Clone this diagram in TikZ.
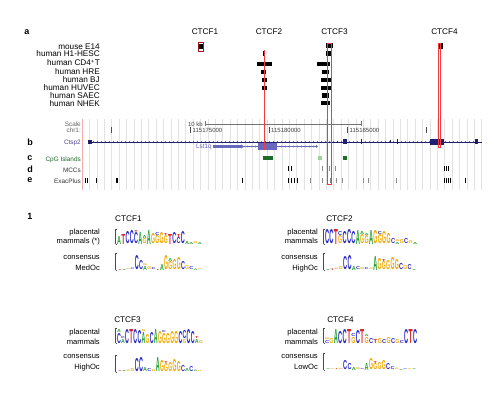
\documentclass[tikz,border=0pt]{standalone}
\usepackage{fontspec}
\setmainfont{Liberation Sans}
\usepackage{graphicx}
\definecolor{colA}{HTML}{1FA22E}
\definecolor{colC}{HTML}{2B2BC8}
\definecolor{colG}{HTML}{F2A900}
\definecolor{colT}{HTML}{D8262A}
\definecolor{ctcfred}{HTML}{F03C40}
\definecolor{chipred}{HTML}{9A1A1A}
\definecolor{genenavy}{HTML}{1F1F70}
\definecolor{lstblue}{HTML}{6767C0}
\definecolor{cpgdark}{HTML}{1E6B2A}
\definecolor{cpglight}{HTML}{9CD49C}
\definecolor{gridgray}{HTML}{E2E2E2}
\definecolor{pinkline}{HTML}{F2AAAA}
% #1 name prefix, #2 x0, #3 baseline, #4 column step, #5 letter width, #6 columns
\newcommand{\seqlogo}[6]{%
  \foreach \ltra/\hgta/\ltrb/\hgtb [count=\n] in {#6}{%
    \node[logoletter] (#1-\n) at ({#2+(\n-1)*#4},#3) {\color{col\ltra}\resizebox{#5pt}{\hgta pt}{\bfseries \ltra}};
    \ifdim \hgtb pt>0pt
      \node[logoletter] (#1-\n-u) at ({#2+(\n-1)*#4},{#3-\hgta-0.6}) {\color{col\ltrb}\resizebox{#5pt}{\hgtb pt}{\bfseries \ltrb}};
    \fi
  }%
}
\begin{document}
\begin{tikzpicture}[x=1pt,y=-1pt,
  rowlbl/.style={font=\fontsize{8.2}{9}\selectfont, inner sep=0, anchor=base east},
  ctcflbl/.style={font=\fontsize{8.2}{9}\selectfont, inner sep=0, anchor=base},
  panellbl/.style={font=\bfseries\fontsize{9}{10}\selectfont, inner sep=0, anchor=base},
  trklbl/.style={font=\fontsize{6.4}{7}\selectfont, inner sep=0, anchor=base east},
  coordlbl/.style={font=\fontsize{6}{7}\selectfont, inner sep=0, anchor=base west, text=black!75},
  logolbl/.style={font=\fontsize{7.6}{8}\selectfont, inner sep=0, anchor=base east},
  logoletter/.style={anchor=south west, inner sep=0, outer sep=0},
  ctcfline/.style={draw=ctcfred, line width=0.7pt},
  gridln/.style={draw=gridgray, line width=0.5pt},
  tickmk/.style={line width=0.7pt},
  grayt/.style={line width=0.7pt, draw=black!45},
  logoaxis/.style={draw=black!70, line width=0.4pt}
]
\useasboundingbox (0,0) rectangle (500,395);
\fill[white] (0,0) rectangle (500,395);

% ---------- panel a ----------
\node[panellbl] (pa) at (27,34.6) {a};
\node[ctcflbl] (t1) at (205,35) {CTCF1};
\node[ctcflbl] (t2) at (269,35) {CTCF2};
\node[ctcflbl] (t3) at (334.5,35) {CTCF3};
\node[ctcflbl] (t4) at (444.5,35) {CTCF4};

\node[rowlbl] (r1) at (100,49.9) {mouse E14};
\node[rowlbl] (r2) at (100,56.9) {human H1-HESC};
\node[rowlbl] (r3) at (100,65.9) {human CD4\textsuperscript{+}T};
\node[rowlbl] (r4) at (100,74.9) {human HRE};
\node[rowlbl] (r5) at (100,82.9) {human BJ};
\node[rowlbl] (r6) at (100,90.9) {human HUVEC};
\node[rowlbl] (r7) at (100,98.9) {human SAEC};
\node[rowlbl] (r8) at (100,106.9) {human NHEK};

% ChIP bars
\fill[black] (199,44.5) rectangle (202.5,49.5);
% CTCF2
\fill[black] (262.7,51.5) rectangle (265,56.5);
\fill[black] (256.7,61.8) rectangle (271.7,66.5);
\fill[black] (261,69.8) rectangle (265.7,74.5);
\fill[black] (262,77.8) rectangle (266.7,82.5);
\fill[black] (261.7,85.8) rectangle (266.7,90.5);
% CTCF3
\fill[black] (325.7,43.5) rectangle (333.3,48.5);
\fill[black] (326,51.5) rectangle (330.7,56.5);
\fill[black] (317.3,61.8) rectangle (330,66.5);
\fill[black] (322.3,69.8) rectangle (329,74.5);
\fill[black] (320.7,77.8) rectangle (330.7,82.5);
\fill[black] (321,85.8) rectangle (331.7,90.5);
\fill[black] (322.3,93.3) rectangle (329.3,97.8);
\fill[black] (320.7,100.8) rectangle (330,105.5);
% CTCF4
\fill[black] (437.7,43.5) rectangle (443.3,49);

% ---------- track area ----------
\foreach \k in {1,...,54}{
  \draw[gridln] ({82+7.4*\k},119) -- ({82+7.4*\k},190);
}
\draw[draw=pinkline, line width=0.6pt] (82,119) -- (82,190);

\node[trklbl, text=black!60] (scl) at (81,127) {Scale};
\node[trklbl, text=black!60] (chr) at (81,132.5) {chr1:};
\node[panellbl] (pb) at (30,145.5) {b};
\node[trklbl, text=genenavy!80] (gn) at (81,144.3) {Ctsp2};
\node[panellbl] (pc) at (30,160.6) {c};
\node[trklbl, text=cpgdark] (cpg) at (81,161.3) {CpG Islands};
\node[panellbl] (pd) at (30,172.5) {d};
\node[trklbl, text=black!80] (mcc) at (81,172.3) {MCCs};
\node[panellbl] (pe) at (30,183) {e};
\node[trklbl, text=black!80] (exa) at (81,183.3) {ExacPlus};

% scale bar
\node[coordlbl, anchor=base east] (kb) at (203,126.3) {10 kb};
\draw[black!55, line width=0.6pt] (205,124) -- (361.5,124);
\draw[black!55, line width=0.6pt] (205,121.5) -- (205,126.5);
\draw[black!55, line width=0.6pt] (361.5,121.5) -- (361.5,126.5);
% coordinates
\foreach \xx in {111.7,190.5,269,347.5,426.5}{
  \draw[black!70, line width=0.5pt] (\xx,127.5) -- (\xx,133);
}
\node[coordlbl] (c1) at (192.5,132.5) {115175000};
\node[coordlbl] (c2) at (271,132.5) {115180000};
\node[coordlbl] (c3) at (349.5,132.5) {115185000};

% gene b
\draw[genenavy, line width=0.6pt] (88,142) -- (481.7,142);
\foreach \xx in {94,98,...,478}{
  \draw[genenavy, line width=0.3pt] (\xx-0.8,141) -- (\xx,142) -- (\xx-0.8,143);
}
\fill[genenavy] (88,140) rectangle (91.7,144.5);
\fill[genenavy] (337,141) rectangle (338,143.5);
\fill[genenavy] (343.3,139.5) rectangle (347.3,144.5);
\fill[genenavy] (361,139.5) rectangle (362.3,144.5);
\fill[genenavy] (389.7,140.5) rectangle (390.5,143.5);
\fill[genenavy] (396.7,139.5) rectangle (398.3,144.5);
\fill[genenavy] (430,139.3) rectangle (444,145);
\fill[genenavy] (475,139.5) rectangle (478.3,144.5);

% gene Lst1q
\node[trklbl, text=lstblue, anchor=base east] (lst) at (212,148.8) {Lst1q};
\draw[lstblue, line width=0.5pt] (241.7,146.5) -- (316.5,146.5);
\foreach \xx in {248,252,256,282,286,...,314}{
  \draw[lstblue, line width=0.3pt] (\xx-0.8,145.6) -- (\xx,146.5) -- (\xx-0.8,147.4);
}
\fill[lstblue] (213.3,145.2) rectangle (241.7,147.8);
\fill[lstblue] (241.2,144.5) -- (244,146.5) -- (241.2,148.5) -- cycle;
\fill[lstblue] (258.3,143.5) rectangle (276.7,150);
\fill[lstblue] (316.5,146.5) circle (1.3);

% CpG islands
\fill[cpgdark] (263,155.7) rectangle (273,160.3);
\fill[cpglight] (318,155.7) rectangle (321.7,160.3);
\fill[cpgdark] (343,155.7) rectangle (347.3,160.3);

% MCCs
\foreach \xx in {288,291,444.5,446.5,448.5}{
  \draw[tickmk] (\xx,166.5) -- (\xx,171.5);
}
\foreach \xx in {322,329,335.5}{
  \draw[grayt] (\xx,166.5) -- (\xx,171.5);
}
% ExacPlus
\foreach \xx in {85.5,87.5,96.5,116.5,117.5,242,288,291,294,297,444.5,446.5,448.5,450,465}{
  \draw[tickmk] (\xx,178.5) -- (\xx,183.5);
}
\foreach \xx in {310,322,330,336,342,363,368.5,396.5}{
  \draw[grayt] (\xx,178.5) -- (\xx,183.5);
}

% CTCF position lines
\draw[draw=chipred, line width=0.6pt] (198.3,42.7) rectangle (203.3,51.7);
\draw[ctcfline] (264.8,50) -- (264.8,150);
\draw[ctcfline] (327,43) rectangle (331,184);
\draw[ctcfline] (438.5,43) rectangle (440.3,147);

% ---------- panel 1: logos ----------
\node[panellbl] (p1) at (30,220) {1};
\node[ctcflbl] (b1) at (128.4,222) {CTCF1};
\node[ctcflbl] (b2) at (339.5,222) {CTCF2};
\node[ctcflbl] (b3) at (127.5,322.3) {CTCF3};
\node[ctcflbl] (b4) at (340.5,322.3) {CTCF4};

\node[logolbl] (l1a) at (100,234.5) {placental};
\node[logolbl] (l1b) at (100,243.5) {mammals (*)};
\node[logolbl] (l1c) at (100,259.5) {consensus};
\node[logolbl] (l1d) at (100,270) {MedOc};
\node[logolbl] (l2a) at (318,234.5) {placental};
\node[logolbl] (l2b) at (318,243.5) {mammals};
\node[logolbl] (l2c) at (318,259.5) {consensus};
\node[logolbl] (l2d) at (318,270) {HighOc};
\node[logolbl] (l3a) at (100,334.5) {placental};
\node[logolbl] (l3b) at (100,344.5) {mammals};
\node[logolbl] (l3c) at (100,358.5) {consensus};
\node[logolbl] (l3d) at (100,369) {HighOc};
\node[logolbl] (l4a) at (318,334.5) {placental};
\node[logolbl] (l4b) at (318,344.5) {mammals};
\node[logolbl] (l4c) at (318,358.5) {consensus};
\node[logolbl] (l4d) at (318,369) {LowOc};

% axes
\foreach \ax/\bs/\hh in {115.5/244/15, 115.5/270/17, 323.5/244/15, 323.5/270/17, 115.5/343.3/15, 115.5/371.7/17, 323.5/343.3/15, 323.5/370/17}{
  \draw[logoaxis] (\ax,\bs) -- (\ax,\bs-\hh);
  \draw[logoaxis] (\ax,\bs) -- (\ax+0.8,\bs);
  \draw[logoaxis] (\ax,\bs-\hh) -- (\ax+0.8,\bs-\hh);
}

\seqlogo{pA}{117}{244}{4.25}{3.95}{A/8/C/0, T/10/C/0, C/12/T/0, C/13/A/0, C/11/T/2, A/12/C/0, G/5/A/3, A/14/C/0, G/10/A/0, G/8/C/3, G/11/A/0, G/8/T/2, T/10/C/0, C/11/A/0, C/6/T/3, C/12/A/0, A/3/G/0, A/2/C/0, G/2/A/0, A/2/C/0}
\seqlogo{cA}{118}{270}{4.2}{3.9}{T/1/A/0, A/1/G/0, G/1.2/C/0, C/1.5/A/0, C/14/T/0, C/9/A/0, A/4/G/2, G/3/C/0, C/2/A/0, T/1/G/0, A/6/C/0, G/14/A/0, G/8/A/3, G/10/T/0, G/12/C/0, C/8/G/0, G/4/C/0, C/3/A/0, A/1.5/G/0, G/1/C/0}
\seqlogo{pB}{325}{244}{4.4}{4.1}{C/14/A/0, C/14/T/0, T/15/C/0, G/8/C/4, C/12/T/0, C/14/A/0, C/12/G/0, A/14/C/0, G/9/A/3, G/8/A/2, A/14/G/0, G/13/A/0, G/9/C/3, G/12/A/0, G/10/T/0, C/5/G/0, A/2/G/2, G/4/C/0, C/5/A/0, G/3/C/0, A/2/G/0}
\seqlogo{cB}{326}{270}{4.3}{4.0}{A/1/G/0, T/1.5/C/0, G/1.5/A/0, G/3/C/0, C/13/G/0, C/14/A/0, A/4/G/0, C/3/A/0, G/2/C/0, C/2/A/0, G/1.5/A/0, A/14/G/0, G/11/A/0, G/8/T/2, G/9/A/0, G/12/C/0, G/10/A/0, C/6/T/0, G/4/A/0, C/5/G/0, A/1/G/0}
\seqlogo{pC}{117}{343.3}{4.1}{3.8}{C/10/A/3, A/4/C/2, C/14/T/0, T/14/C/0, C/14/A/0, C/13/T/0, A/11/G/2, G/9/C/0, C/11/A/0, A/14/G/0, G/12/A/0, G/10/C/2, G/10/A/0, G/12/C/0, G/12/A/0, C/12/G/0, G/4/C/8, C/14/A/0, C/12/T/0, A/4/T/2, G/3/A/0}
\seqlogo{cC}{118}{371.7}{4.2}{3.9}{T/1/A/0, A/1/G/0, G/1.5/C/0, G/3/A/0, C/13/G/0, C/14/A/0, A/4/G/0, C/3/A/0, G/2/C/0, A/14/G/0, G/11/A/0, G/8/T/2, G/9/A/0, G/12/C/0, G/10/A/0, C/6/T/0, A/3/G/0, C/5/G/0, A/1.5/C/0, G/1/A/0}
\seqlogo{pD}{325}{343.3}{4.4}{4.1}{C/3/G/2, G/5/A/0, A/14/G/0, C/12/A/0, C/14/T/0, T/14/C/0, G/6/C/3, C/13/T/0, T/14/C/0, G/6/A/2, C/5/G/0, T/4/G/0, G/5/A/0, C/4/T/0, G/6/C/0, C/5/A/0, G/4/C/0, C/3/G/0, C/14/T/0, T/14/C/0, C/14/A/0}
\seqlogo{cD}{326}{370}{4.3}{4.0}{A/0.8/G/0, G/0.8/C/0, T/0.8/A/0, G/1/C/0, C/9/G/0, C/6/A/0, A/3/G/0, G/2/C/0, C/1/A/0, A/7/G/0, G/11/A/0, G/6/T/2, G/7/A/0, G/9/C/0, C/6/G/0, C/3/A/0, G/1.5/C/0, A/1/G/0, C/0.8/A/0, G/0.8/A/0, A/0.8/C/0}
\end{tikzpicture}
\end{document}
